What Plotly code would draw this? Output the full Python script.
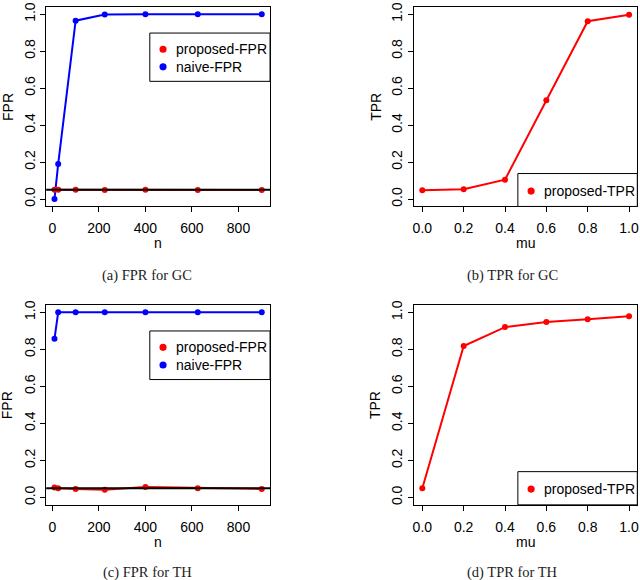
import plotly.graph_objects as go

W, H = 640, 580

# ---------------- data ----------------
n_vals = [9, 25, 100, 225, 400, 625, 900]
mu_vals = [0.0, 0.2, 0.4, 0.6, 0.8, 1.0]

gc_proposed_fpr = [0.050, 0.050, 0.050, 0.049, 0.050, 0.049, 0.049]
gc_naive_fpr = [0.0, 0.19, 0.965, 0.998, 1.0, 1.0, 1.0]
gc_proposed_tpr = [0.048, 0.053, 0.105, 0.535, 0.962, 0.997]

th_proposed_fpr = [0.054, 0.050, 0.046, 0.042, 0.056, 0.050, 0.046]
th_naive_fpr = [0.857, 1.0, 1.0, 1.0, 1.0, 1.0, 1.0]
th_proposed_tpr = [0.050, 0.818, 0.920, 0.948, 0.962, 0.979]

ALPHA = 0.05

y_ticks = [0.0, 0.2, 0.4, 0.6, 0.8, 1.0]
n_ticks = [0, 200, 400, 600, 800]
mu_ticks = [0.0, 0.2, 0.4, 0.6, 0.8, 1.0]

captions = ["(a) FPR for GC", "(b) TPR for GC", "(c) FPR for TH", "(d) TPR for TH"]

RED = "#FF0000"
BLUE = "#0000FF"
FONT = "Liberation Sans, Arial, sans-serif"
SERIF = "Liberation Serif, Times New Roman, serif"


def px(x):
    return x / W


def py(y):
    return 1 - y / H


def pad_range(vals):
    lo, hi = min(vals), max(vals)
    d = (hi - lo) * 0.04
    return [lo - d, hi + d]


fig = go.Figure()

# panel geometry (pixels)
left_x = (45.4, 270.3)
right_x = (415.0, 639.3)
top_y = (1.8, 203.2)
bot_y = (302.5, 504.2)

panels = [
    dict(ax="", xdom=left_x, ydom=top_y, xv=n_vals, xt=n_ticks, xfmt="d"),
    dict(ax="2", xdom=right_x, ydom=top_y, xv=mu_vals, xt=mu_ticks, xfmt=".1f"),
    dict(ax="3", xdom=left_x, ydom=bot_y, xv=n_vals, xt=n_ticks, xfmt="d"),
    dict(ax="4", xdom=right_x, ydom=bot_y, xv=mu_vals, xt=mu_ticks, xfmt=".1f"),
]

axis_common = dict(
    showline=True, mirror=True, linecolor="black", linewidth=1,
    ticks="outside", ticklen=5, tickwidth=1, tickcolor="black",
    showgrid=False, zeroline=False,
    ticklabeloverflow="allow",
    tickfont=dict(family=FONT, size=14, color="black"),
)

for p in panels:
    xa = "xaxis" + p["ax"]
    ya = "yaxis" + p["ax"]
    fig.layout[xa] = dict(
        axis_common,
        domain=[px(p["xdom"][0]), px(p["xdom"][1])],
        range=pad_range(p["xv"]),
        tickmode="array", tickvals=p["xt"], tickformat=p["xfmt"],
        ticklabelstandoff=4,
        anchor="y" + p["ax"],
    )
    fig.layout[ya] = dict(
        axis_common,
        domain=[py(p["ydom"][1]), py(p["ydom"][0])],
        range=[-0.04, 1.04],
        tickmode="array", tickvals=y_ticks, tickformat=".1f",
        tickangle=-90,
        anchor="x" + p["ax"],
    )


def add_line(xv, yv, color, ax):
    fig.add_trace(go.Scatter(
        x=xv, y=yv, mode="lines+markers",
        line=dict(color=color, width=2),
        marker=dict(color=color, size=6),
        xaxis="x" + ax, yaxis="y" + ax, showlegend=False,
        hoverinfo="x+y",
    ))


# Panel (a)
add_line(n_vals, gc_naive_fpr, BLUE, "")
add_line(n_vals, gc_proposed_fpr, RED, "")
# Panel (b)
add_line(mu_vals, gc_proposed_tpr, RED, "2")
# Panel (c)
add_line(n_vals, th_naive_fpr, BLUE, "3")
add_line(n_vals, th_proposed_fpr, RED, "3")
# Panel (d)
add_line(mu_vals, th_proposed_tpr, RED, "4")

# reference line at alpha on FPR panels
for ax in ["", "3"]:
    fig.add_shape(type="line", xref="x" + ax + " domain",
                  yref="y" + ax, x0=0, x1=1, y0=ALPHA, y1=ALPHA,
                  line=dict(color="black", width=2))

annotations = []

# axis titles
for p, xt, yt in [(panels[0], "n", "FPR"), (panels[1], "mu", "TPR"),
                  (panels[2], "n", "FPR"), (panels[3], "mu", "TPR")]:
    cx = (p["xdom"][0] + p["xdom"][1]) / 2
    cy = (p["ydom"][0] + p["ydom"][1]) / 2
    annotations.append(dict(x=px(cx), y=py(p["ydom"][1] + 37), xref="paper", yref="paper",
                            text=xt, showarrow=False, xanchor="center", yanchor="middle",
                            font=dict(family=FONT, size=14, color="black")))
    annotations.append(dict(x=px(p["xdom"][0] - 39), y=py(cy), xref="paper", yref="paper",
                            text=yt, showarrow=False, textangle=-90,
                            xanchor="center", yanchor="middle",
                            font=dict(family=FONT, size=14, color="black")))

# captions
for cap, cx, cy in zip(captions, [147, 514, 147, 514], [273, 273, 572.5, 572.5]):
    annotations.append(dict(x=px(cx), y=py(cy), xref="paper", yref="paper",
                            text=cap, showarrow=False, xanchor="center", yanchor="middle",
                            font=dict(family=SERIF, size=14.5, color="#222222")))


# legends (drawn as boxes)
def legend(x0, y0, x1, y1, items):
    fig.add_shape(type="rect", xref="paper", yref="paper",
                  x0=px(x0), x1=px(x1), y0=py(y1), y1=py(y0),
                  line=dict(color="black", width=1), fillcolor="white", layer="above")
    for (label, color, my) in items:
        r = 3.6
        fig.add_shape(type="circle", xref="paper", yref="paper",
                      x0=px(x0 + 13.3 - r), x1=px(x0 + 13.3 + r),
                      y0=py(my + r), y1=py(my - r),
                      line=dict(color=color, width=0), fillcolor=color, layer="above")
        annotations.append(dict(x=px(x0 + 24.5), y=py(my), xref="paper", yref="paper",
                                text=label, showarrow=False, xanchor="left", yanchor="middle",
                                font=dict(family=FONT, size=14, color="black")))


legend(149.5, 28.3, 270.3, 77.0, [("proposed-FPR", RED, 44.6), ("naive-FPR", BLUE, 62.4)])
legend(149.5, 328.8, 270.3, 377.8, [("proposed-FPR", RED, 345.3), ("naive-FPR", BLUE, 363.1)])
legend(519.3, 170.0, 639.3, 203.2, [("proposed-TPR", RED, 187.7)])
legend(519.3, 470.7, 639.3, 504.2, [("proposed-TPR", RED, 488.3)])

fig.update_layout(
    width=W, height=H,
    margin=dict(l=0, r=0, t=0, b=0),
    paper_bgcolor="white", plot_bgcolor="white",
    showlegend=False,
    annotations=annotations,
)

fig.write_html(
    "out.html",
    config={"displayModeBar": False},
    post_script="document.body.style.margin='0';document.body.style.padding='0';"
                "document.body.style.overflow='hidden';",
)
